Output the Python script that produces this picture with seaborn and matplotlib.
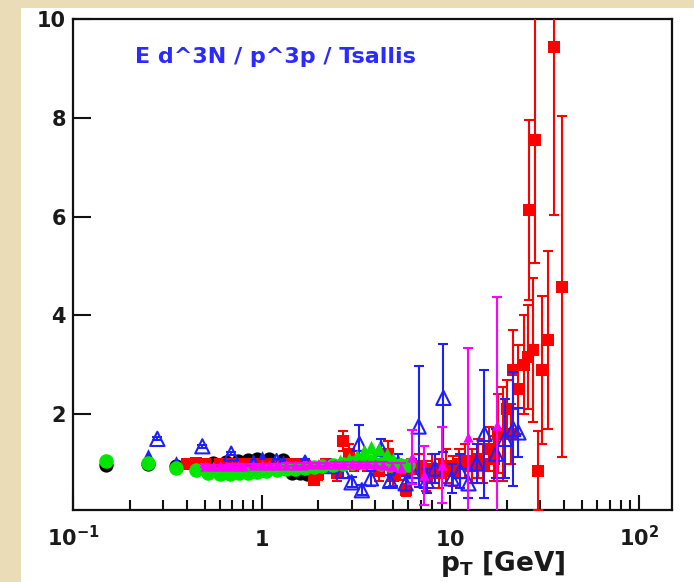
import numpy as np
import pandas as pd
import matplotlib
matplotlib.use("Agg")
import matplotlib.pyplot as plt
import matplotlib.transforms as mtransforms
from matplotlib.patches import Rectangle
from matplotlib.ticker import FixedLocator, NullFormatter, LogLocator
import seaborn as sns

plt.rcParams['font.family'] = ['DejaVu Sans']
plt.rcParams['mathtext.fontset'] = 'dejavusans'

# ---------------- data (ratio to Tsallis fit) ----------------
bk_pt  = [0.15, 0.25, 0.35, 0.45, 0.55, 0.65, 0.75, 0.85, 0.95, 1.1, 1.3, 1.45, 1.6, 1.75, 1.9]
bk_val = [0.98, 0.99, 0.96, 0.95, 1.02, 1.04, 1.06, 1.08, 1.10, 1.10, 1.08, 0.80, 0.80, 0.79, 0.80]
bk_err = [0.02, 0.02, 0.02, 0.02, 0.03, 0.03, 0.03, 0.03, 0.04, 0.04, 0.05, 0.04, 0.04, 0.04, 0.04]

gr_pt  = [0.15, 0.25, 0.35, 0.45, 0.52, 0.6, 0.68, 0.76, 0.85, 0.95, 1.05, 1.2, 1.35, 1.5,
          1.7, 1.9, 2.1, 2.4, 2.7, 3.0, 3.4, 3.8, 4.3, 4.8, 5.4, 6.0]
gr_val = [1.06, 1.02, 0.92, 0.87, 0.80, 0.79, 0.79, 0.80, 0.81, 0.82, 0.84, 0.86, 0.88, 0.90,
          0.92, 0.94, 0.96, 0.98, 1.00, 1.02, 1.05, 1.05, 1.00, 0.98, 0.97, 0.97]

gt_pt  = [2.6, 2.9, 3.2, 3.5, 3.8, 4.2, 4.6, 5.0, 5.5]
gt_val = [1.05, 1.10, 1.15, 1.25, 1.33, 1.30, 1.20, 1.10, 1.00]

mg_pt  = [0.5, 0.55, 0.6, 0.65, 0.7, 0.75, 0.8, 0.9, 1.0, 1.1, 1.2, 1.35, 1.5, 1.65, 1.8,
          2.0, 2.2, 2.45, 2.7, 3.0, 3.3, 3.6, 4.0, 4.4, 4.9, 5.5, 6.3, 7.3, 9.1, 12.4, 17.8]
mg_val = [0.96, 0.95, 0.95, 0.95, 0.96, 0.96, 0.96, 0.97, 0.97, 0.97, 0.97, 0.98, 0.98, 0.98, 0.99,
          0.99, 0.99, 1.00, 1.00, 1.00, 1.00, 1.00, 0.99, 0.98, 0.95, 0.92, 1.13, 0.76, 0.97, 1.54, 1.78]
mg_err = [0.03, 0.03, 0.03, 0.03, 0.03, 0.03, 0.03, 0.03, 0.03, 0.03, 0.03, 0.03, 0.03, 0.03, 0.03,
          0.03, 0.03, 0.03, 0.03, 0.03, 0.03, 0.03, 0.04, 0.05, 0.06, 0.10, 0.55, 0.60, 0.77, 1.80, 2.60]

bs_pt  = [0.25, 0.35, 0.9, 1.0, 1.3]
bs_val = [1.22, 1.08, 1.12, 1.18, 1.10]

bl_pt  = [0.28, 0.485, 0.69, 1.2, 1.7, 2.3, 2.7, 3.0, 3.3, 3.4, 3.8, 4.3, 4.8, 5.3, 5.8,
          6.3, 6.8, 7.5, 8.3, 9.2, 10.2, 11.3, 12.5, 13.8, 15.2, 17.5, 19.5, 21.6, 23.0]
bl_val = [1.50, 1.35, 1.20, 1.05, 1.02, 0.95, 0.85, 0.62, 1.40, 0.46, 0.70, 1.30, 0.65, 1.00, 0.60,
          0.85, 1.75, 0.65, 0.90, 2.33, 0.70, 0.85, 0.60, 1.00, 1.60, 1.20, 1.50, 1.70, 1.63]
bl_err = [0.03, 0.03, 0.03, 0.05, 0.08, 0.10, 0.15, 0.10, 0.38, 0.10, 0.15, 0.20, 0.12, 0.20, 0.15,
          0.25, 1.22, 0.25, 0.30, 1.10, 0.30, 0.35, 0.30, 0.40, 1.30, 0.50, 0.80, 1.15, 0.50]

rd_pt  = [0.4, 0.45, 0.5, 0.6, 0.7, 0.8, 0.9, 1.0, 1.15, 1.3, 1.5, 1.7, 1.9, 2.0, 2.2, 2.5, 2.7,
          2.9, 3.1, 3.6, 4.2, 4.7, 5.0, 5.4, 5.8, 6.2, 6.8, 7.4, 8.0, 8.7, 9.5, 10.3, 11.2, 12.0,
          13.0, 14.0, 15.0, 16.0, 17.0, 18.0, 19.0, 20.0, 21.0, 21.6, 23.0, 24.5, 26.0, 26.3,
          27.5, 28.3, 29.3, 30.7, 33.0, 35.3, 39.0]
rd_val = [1.00, 1.02, 1.00, 1.00, 1.00, 1.00, 1.00, 1.00, 0.99, 1.00, 1.00, 0.95, 0.66, 0.78, 1.00,
          0.80, 1.45, 1.20, 1.00, 1.05, 0.85, 1.20, 0.75, 0.86, 0.46, 0.90, 0.95, 0.75, 0.90, 0.80,
          0.95, 0.85, 1.00, 1.05, 0.95, 1.10, 1.00, 1.30, 1.10, 1.60, 1.60, 2.10, 1.60, 2.90, 2.50,
          3.00, 3.16, 6.14, 3.30, 7.56, 0.85, 2.90, 3.50, 9.44, 4.58]
rd_err = [0.08, 0.08, 0.06, 0.05, 0.05, 0.05, 0.05, 0.05, 0.05, 0.06, 0.06, 0.07, 0.10, 0.12, 0.10,
          0.15, 0.20, 0.20, 0.15, 0.20, 0.20, 0.25, 0.20, 0.20, 0.12, 0.20, 0.25, 0.30, 0.30, 0.30,
          0.35, 0.30, 0.30, 0.35, 0.35, 0.40, 0.40, 0.45, 0.45, 0.80, 0.95, 0.60, 0.60, 0.80, 0.90,
          1.00, 1.05, 1.82, 1.45, 2.50, 0.80, 1.50, 1.80, 3.40, 3.45]

x_ticks = [0.1, 1, 10, 100]
x_ticklabels = [r'$\mathbf{10^{-1}}$', r'$\mathbf{1}$', r'$\mathbf{10}$', r'$\mathbf{10^{2}}$']
y_ticks = [2, 4, 6, 8, 10]
y_ticklabels = ['2', '4', '6', '8', '10']
annotation = "E d^3N / p^3p / Tsallis"
xlabel = r'$\mathbf{p}_{\mathbf{T}}$ [GeV]'

# ---------------- figure ----------------
W, H = 694, 582
fig = plt.figure(figsize=(W / 100, H / 100), dpi=100)
fig.patch.set_facecolor('#E9DCB7')
fig.patches.append(Rectangle((21 / W, 0), 1 - 21 / W, 1 - 8 / H, transform=fig.transFigure,
                             facecolor='white', edgecolor='none', zorder=-10))

ax = fig.add_axes([73 / W, (H - 510) / H, (672 - 73) / W, (510 - 19) / H])
ax.set_zorder(2)
ax.set_facecolor('white')
ax.set_xscale('log')
ax.set_xlim(0.1, 150)
ax.set_ylim(0.06, 10)

ecap = 3.6
elw = 1.5

def series(pt, val, err, color, marker, size, z, face=None, mlw=0):
    if err is not None:
        ax.errorbar(pt, val, yerr=err, fmt='none', ecolor=color, elinewidth=elw,
                    capsize=ecap, capthick=elw, zorder=z)
    df = pd.DataFrame({'pt': pt, 'val': val})
    sns.scatterplot(data=df, x='pt', y='val', ax=ax, marker=marker, s=size,
                    color=color if face is None else face,
                    edgecolor=color, linewidth=mlw, zorder=z + 0.5, legend=False)

series(bk_pt, bk_val, bk_err, 'black', 'o', 105, 3)
series(rd_pt, rd_val, rd_err, '#ff0000', 's', 65, 4)
series(bl_pt, bl_val, bl_err, '#2020ff', '^', 105, 5, face='none', mlw=1.5)
series(bs_pt, bs_val, None, '#2020ff', '^', 40, 5)
series(gr_pt, gr_val, None, '#00e600', 'o', 110, 6)
series(gt_pt, gt_val, None, '#00e600', '^', 95, 6)
series(mg_pt, mg_val, mg_err, '#ff00ff', '^', 55, 7)

# axes styling
for sp in ax.spines.values():
    sp.set_linewidth(1.6)
    sp.set_color('#111111')
ax.set_xlabel('')
ax.set_ylabel('')
ax.xaxis.set_major_locator(FixedLocator(x_ticks))
ax.xaxis.set_minor_locator(LogLocator(base=10, subs=np.arange(2, 10)))
ax.xaxis.set_major_formatter(NullFormatter())
ax.xaxis.set_minor_formatter(NullFormatter())
ax.tick_params(axis='x', which='major', direction='in', length=11, width=1.5,
               top=False, color='#111111')
ax.tick_params(axis='x', which='minor', direction='in', length=7, width=1.5,
               top=False, color='#111111')
ax.set_yticks(y_ticks)
ax.set_yticklabels(y_ticklabels, fontsize=15, fontweight='bold', color='#1a1a1a')
ax.tick_params(axis='y', which='major', direction='in', length=13, width=1.5,
               right=False, pad=5, color='#111111')
ax.tick_params(axis='y', which='minor', left=False, right=False)

trans = mtransforms.blended_transform_factory(ax.transData, ax.transAxes)
for xt, lab in zip(x_ticks, x_ticklabels):
    ax.text(xt, -36 / 491, lab, transform=trans, ha='center', va='baseline',
            fontsize=15, color='#1a1a1a', clip_on=False)

fig.text(135 / W, 1 - 57 / H, annotation, ha='left', va='center', fontsize=16,
         fontweight='bold', color='#2b2bff')
fig.text(440 / W, 1 - 571 / H, xlabel, ha='left', va='baseline', fontsize=19,
         fontweight='bold', color='#1a1a1a')

fig.savefig('out.png', dpi=100, facecolor=fig.get_facecolor())
